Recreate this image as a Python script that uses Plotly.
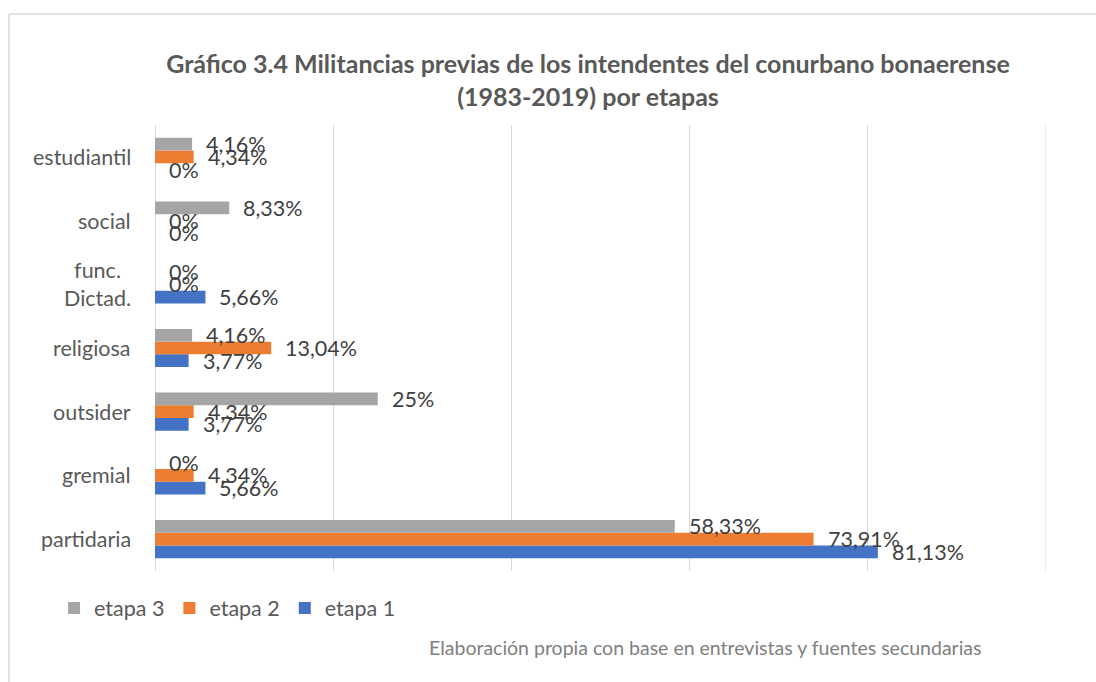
import plotly.graph_objects as go

categories = ["partidaria", "gremial", "outsider", "religiosa", "func.<br>Dictad.", "social", "estudiantil"]
etapa1 = [81.13, 5.66, 3.77, 3.77, 5.66, 0, 0]
etapa2 = [73.91, 4.34, 4.34, 13.04, 0, 0, 4.34]
etapa3 = [58.33, 0, 25, 4.16, 0, 8.33, 4.16]
labels1 = ["81,13%", "5,66%", "3,77%", "3,77%", "5,66%", "0%", "0%"]
labels2 = ["73,91%", "4,34%", "4,34%", "13,04%", "0%", "0%", "4,34%"]
labels3 = ["58,33%", "0%", "25%", "4,16%", "0%", "8,33%", "4,16%"]

FONT = "Lato"
W, H = 1096, 682
L, R, T, B = 155, 1046, 125, 571

ypos = list(range(len(categories)))
series = [
    ("etapa 1", etapa1, labels1, "#4472C4", -0.2),
    ("etapa 2", etapa2, labels2, "#ED7D31", 0.0),
    ("etapa 3", etapa3, labels3, "#A5A5A5", 0.2),
]

fig = go.Figure()
annotations = []
for name, vals, labs, color, off in series:
    fig.add_trace(go.Bar(
        y=ypos, x=vals, name=name, orientation="h",
        marker=dict(color=color, line=dict(width=0)),
        hoverinfo="skip",
    ))
    for i, (v, t) in enumerate(zip(vals, labs)):
        annotations.append(dict(
            x=v, y=i + off, xref="x", yref="y", text=t, showarrow=False,
            xanchor="left", yanchor="middle", xshift=12,
            font=dict(family=FONT, size=21.5, color="#404040"),
        ))

for i, c in enumerate(categories):
    annotations.append(dict(
        x=0, y=i, xref="x", yref="y", text=c, showarrow=False,
        xanchor="right", yanchor="middle", xshift=-22, align="center",
        font=dict(family=FONT, size=21.5, color="#595959"),
    ))

pw, ph = R - L, B - T
def px(x):
    return (x - L) / pw
def py(y):
    return (B - y) / ph

annotations.append(dict(
    x=px(984), y=py(647), xref="paper", yref="paper",
    text="Elaboración propia con base en entrevistas y fuentes secundarias",
    showarrow=False, xanchor="right", yanchor="middle",
    font=dict(family=FONT, size=19.5, color="#7F7F7F"),
))

fig.update_layout(
    width=W, height=H,
    margin=dict(l=L, r=W - R, t=T, b=H - B),
    paper_bgcolor="white", plot_bgcolor="white",
    barmode="group", bargap=0.4, bargroupgap=0,
    title=dict(
        text="<b>Gráfico 3.4 Militancias previas de los intendentes del conurbano bonaerense<br>(1983-2019) por etapas</b>",
        x=588 / W, xanchor="center", xref="container",
        y=1 - 73 / H, yanchor="middle", yref="container",
        font=dict(family=FONT, size=25, color="#595959"),
    ),
    xaxis=dict(range=[0, 100], dtick=20, showgrid=True, gridcolor="#D9D9D9", gridwidth=1,
               showticklabels=False, zeroline=True, zerolinecolor="#D9D9D9", zerolinewidth=1,
               showline=False, fixedrange=True),
    yaxis=dict(range=[-0.5, 6.5], showticklabels=False, showgrid=False, zeroline=False,
               showline=False, fixedrange=True),
    legend=dict(orientation="h", x=px(54), y=py(608), xanchor="left", yanchor="middle",
                traceorder="reversed", font=dict(family=FONT, size=21.5, color="#595959"),
                itemwidth=30, bgcolor="rgba(0,0,0,0)"),
    annotations=annotations,
    shapes=[
        dict(type="line", xref="x", yref="paper", x0=100, x1=100, y0=0, y1=1,
             line=dict(color="#D9D9D9", width=1), layer="below"),
        dict(type="line", xref="paper", yref="paper", x0=px(9), x1=px(9), y0=py(14), y1=py(700),
             line=dict(color="#D9D9D9", width=1.5)),
        dict(type="line", xref="paper", yref="paper", x0=px(9), x1=px(1100), y0=py(14), y1=py(14),
             line=dict(color="#D9D9D9", width=1.5)),
    ],
    showlegend=True,
)

fig.write_html("out.html", config={"displayModeBar": False},
               post_script="document.body.style.margin='0';document.body.style.overflow='hidden';")
